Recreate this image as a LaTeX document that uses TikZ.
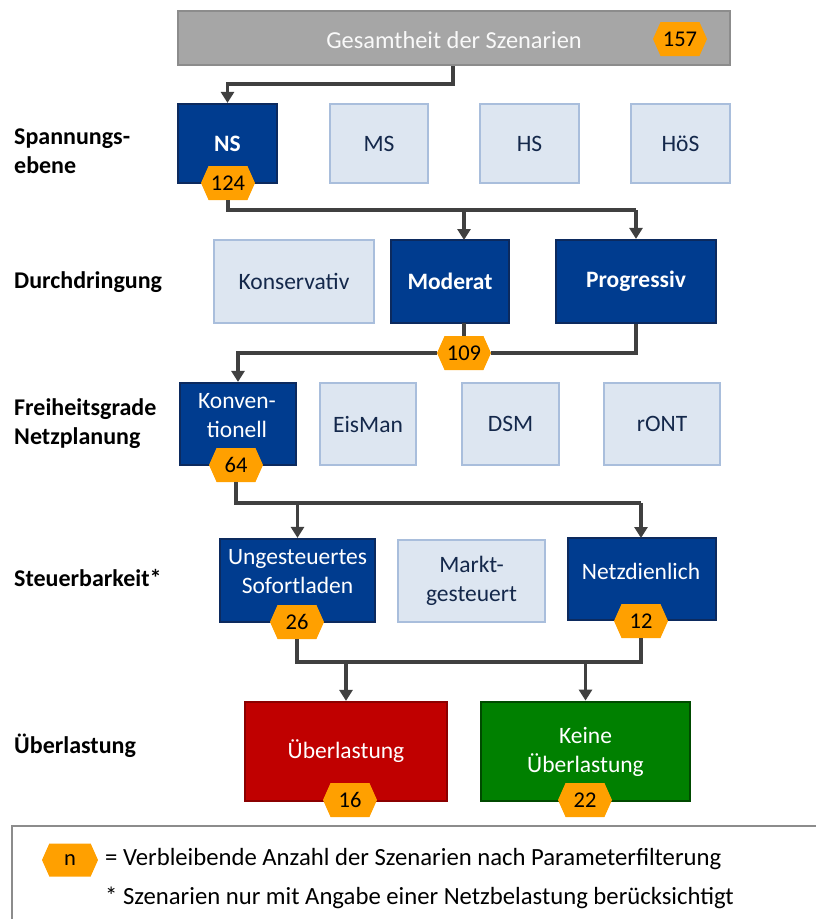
\documentclass[tikz,border=0pt]{standalone}
\usepackage{fontspec}
\setmainfont{Carlito}
\usetikzlibrary{arrows.meta,shapes.symbols}
\definecolor{dblue}{HTML}{003C8F}
\definecolor{dblueb}{HTML}{0C2A5E}
\definecolor{lblue}{HTML}{DDE6F1}
\definecolor{lblueb}{HTML}{A9BEDC}
\definecolor{ltext}{HTML}{14284B}
\definecolor{hexor}{HTML}{FFA000}
\definecolor{conn}{HTML}{404040}
\definecolor{redf}{HTML}{C00000}
\definecolor{redb}{HTML}{8B0000}
\definecolor{greenf}{HTML}{008000}
\definecolor{greenb}{HTML}{004A00}
\definecolor{grayf}{HTML}{A6A6A6}
\definecolor{grayb}{HTML}{8C8C8C}
\tikzset{
  box/.style={draw, line width=2.2pt, inner sep=0pt},
  selbox/.style={box, fill=dblue, draw=dblueb},
  offbox/.style={box, fill=lblue, draw=lblueb},
  seltext/.style={text=white, font=\fontsize{23.5}{29}\selectfont, align=center, inner sep=0pt},
  selbold/.style={seltext, font=\fontsize{23.5}{29}\selectfont\bfseries},
  offtext/.style={text=ltext, font=\fontsize{23.5}{29}\selectfont, align=center, inner sep=0pt},
  hexa/.style={signal, signal to=east and west, signal pointer angle=132, fill=hexor, draw=none,
    minimum width=54pt, minimum height=34pt, inner sep=0pt, font=\fontsize{22.5}{24}\selectfont},
  rowlabel/.style={anchor=west, align=left, font=\fontsize{24}{29}\selectfont\bfseries, inner sep=0pt},
  conline/.style={draw=conn, line width=3.2pt},
  conarrow/.style={conline, -{Triangle[width=13pt,length=11pt]}},
  legtext/.style={anchor=west, inner sep=0pt, font=\fontsize{24.7}{28}\selectfont},
}
\begin{document}
\begin{tikzpicture}[x=1pt,y=-1pt]
\useasboundingbox (0,0) rectangle (816,919);
% top box
\node[box, fill=grayf, draw=grayb, minimum width=552pt, minimum height=54pt] (top) at (454,38) {};
\node[text=white!95!gray, font=\fontsize{24.4}{28}\selectfont, inner sep=0pt] (toptxt) at (454,40) {Gesamtheit der Szenarien};
\node[hexa] (h157) at (680,39) {157};

% row labels
\node[rowlabel] (l1) at (14,151) {Spannungs-\\ebene};
\node[rowlabel] (l2) at (14,282) {Durchdringung};
\node[rowlabel] (l3) at (14,424) {Freiheitsgrade\\Netzplanung};
\node[rowlabel] (l4) at (14,578) {Steuerbarkeit*};
\node[rowlabel] (l5) at (14,746) {Überlastung};

% row 1
\node[selbox, minimum width=99pt, minimum height=79pt] (ns) at (227.5,143.5) {};
\node[selbold] at (ns) {NS};
\node[offbox, minimum width=98pt, minimum height=79pt] (ms) at (379,143.5) {};
\node[offtext] at (ms) {MS};
\node[offbox, minimum width=99pt, minimum height=79pt] (hs) at (529.5,143.5) {};
\node[offtext] at (hs) {HS};
\node[offbox, minimum width=99pt, minimum height=79pt] (hos) at (680.5,143.5) {};
\node[offtext] at (hos) {HöS};
\node[hexa] (h124) at (228,183) {124};

% row 2
\node[offbox, minimum width=160pt, minimum height=83pt] (kons) at (294,281.5) {};
\node[offtext] at (kons) {Konservativ};
\node[selbox, minimum width=118pt, minimum height=83pt] (mod) at (450,281.5) {};
\node[selbold] at (mod) {Moderat};
\node[selbox, minimum width=160pt, minimum height=83pt] (prog) at (636,281.5) {};
\node[selbold] at (prog) {Progressiv};

% row 3
\node[selbox, minimum width=116pt, minimum height=82pt] (konv) at (238,424) {};
\node[seltext] at (237,416) {Konven-\\tionell};
\node[offbox, minimum width=96pt, minimum height=82pt] (eis) at (368,424) {};
\node[offtext] at (eis) {EisMan};
\node[offbox, minimum width=97pt, minimum height=82pt] (dsm) at (510.5,424) {};
\node[offtext] at (dsm) {DSM};
\node[offbox, minimum width=116pt, minimum height=82pt] (ront) at (662,424) {};
\node[offtext] at (ront) {rONT};

% row 4
\node[selbox, minimum width=155pt, minimum height=83pt] (unge) at (297.5,580.5) {};
\node[seltext] at (297.5,571.5) {Ungesteuertes\\Sofortladen};
\node[offbox, minimum width=147pt, minimum height=82pt] (markt) at (471.5,581) {};
\node[offtext] at (markt) {Markt-\\gesteuert};
\node[selbox, minimum width=148pt, minimum height=82pt] (netz) at (642,579) {};
\node[seltext] at (641,571) {Netzdienlich};

% row 5
\node[box, fill=redf, draw=redb, minimum width=202pt, minimum height=99pt] (ueb) at (346,751.5) {};
\node[seltext] at (346,751) {Überlastung};
\node[box, fill=greenf, draw=greenb, line width=2.8pt, minimum width=209pt, minimum height=99pt] (keine) at (585.5,751.5) {};
\node[seltext] at (585.5,752) {Keine\\Überlastung};

% connectors
\coordinate (c0) at (453,84);
\draw[conarrow] (top.south -| c0) -- (c0) -| (ns.north);

\coordinate (c1) at (228,210);
\draw[conline] (h124.south) -- (c1) -- (c1 -| prog.north);
\draw[conarrow] (c1 -| 464,0) -- (464,240);
\draw[conarrow] (c1 -| prog.north) -- (prog.north);

\node[hexa] (h109) at (464,353) {109};
\draw[conline] (464,323) -- (h109.north);
\draw[conline] (prog.south) -- (prog.south |- h109) -- (h109.east);
\draw[conarrow] (h109.west) -| (konv.north);
\node[hexa] (h64) at (236,465) {64};

\coordinate (c2) at (236,503);
\draw[conline] (h64.south) -- (c2) -- (c2 -| 641,0);
\draw[conarrow] (c2 -| 641,0) -- (641,538);
\draw[conarrow] (c2 -| unge.north) -- (unge.north);

\node[hexa] (h26) at (297,622) {26};
\node[hexa] (h12) at (641,621) {12};
\coordinate (c3) at (297,662);
\draw[conline] (h26.south) -- (c3) -- (c3 -| h12.south) -- (h12.south);
\draw[conarrow] (c3 -| ueb.north) -- (ueb.north);
\draw[conarrow] (c3 -| keine.north) -- (keine.north);

\node[hexa] (h16) at (350,800) {16};
\node[hexa] (h22) at (585,800) {22};

% legend
\draw[draw=gray!90, line width=1.3pt] (12,935) -- (12,826) -- (830,826);
\node[hexa, minimum width=56pt, minimum height=33pt] (hn) at (70,860) {n};
\node[legtext] (lt1) at (105,859) {= Verbleibende Anzahl der Szenarien nach Parameterfilterung};
\node[legtext] (lt2) at (105,898) {* Szenarien nur mit Angabe einer Netzbelastung berücksichtigt};
\end{tikzpicture}
\end{document}
